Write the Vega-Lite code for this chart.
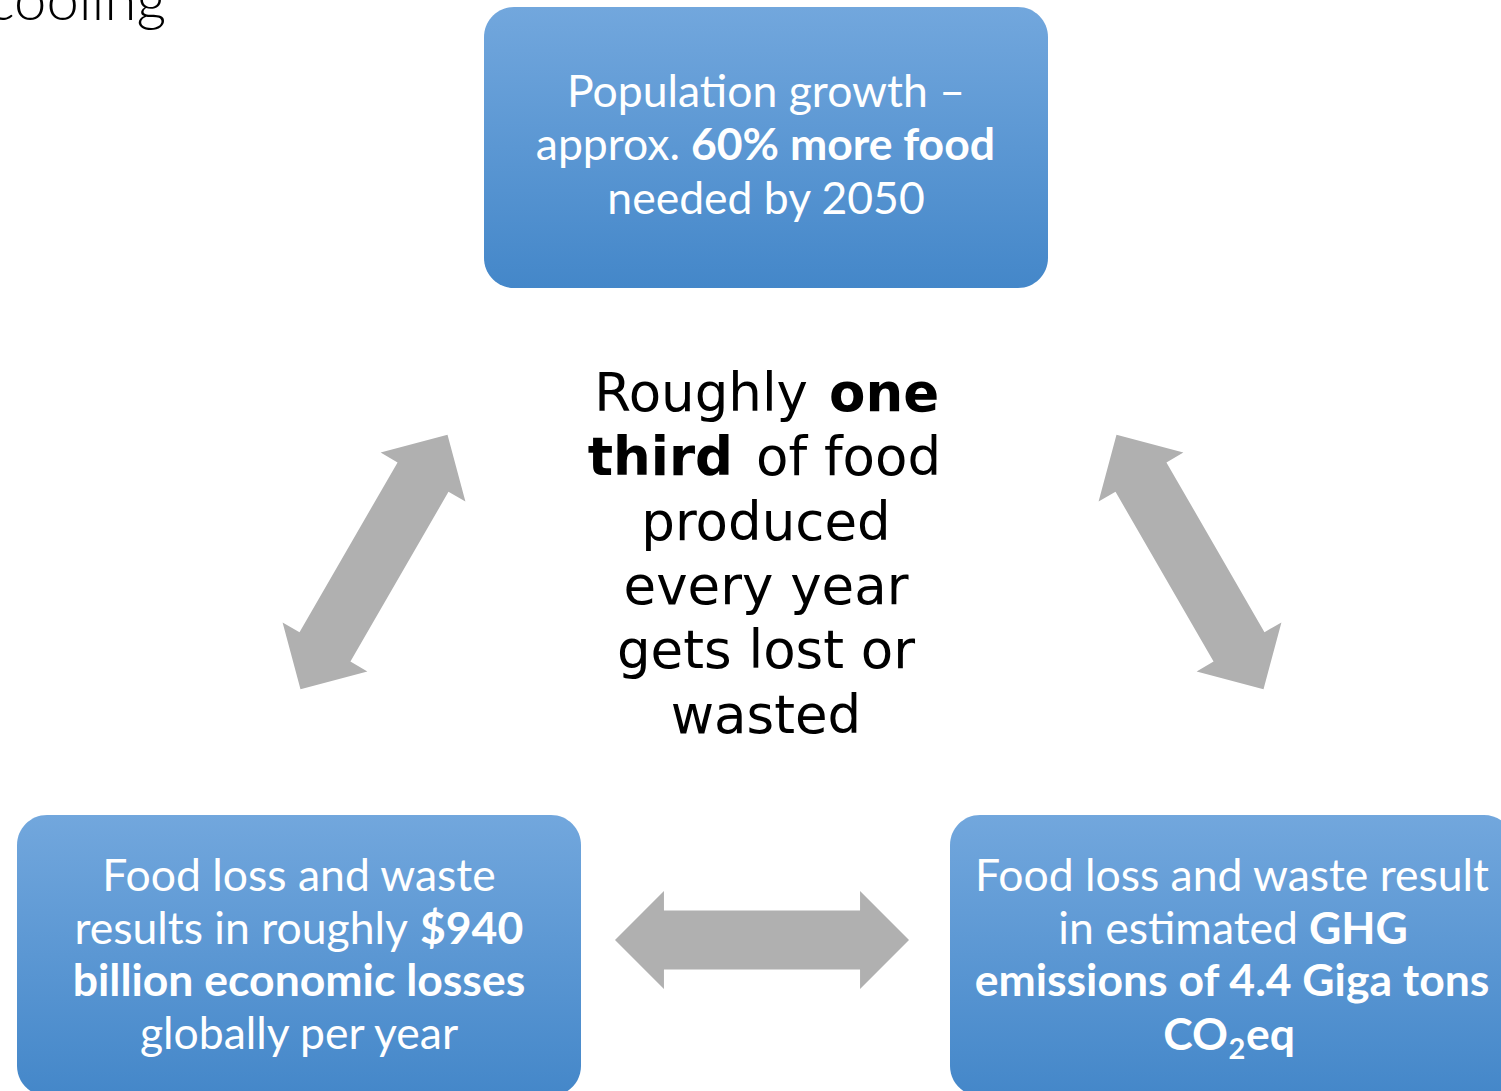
{
  "$schema": "https://vega.github.io/schema/vega-lite/v6.json",
  "width": 1501,
  "height": 1091,
  "autosize": {"type": "none"},
  "padding": 0,
  "background": "white",
  "config": {"view": {"stroke": null}},
  "datasets": {
    "boxes": [
      {"box": "top", "x": 484, "x2": 1048, "y": 7, "y2": 288},
      {"box": "left", "x": 17, "x2": 581, "y": 815, "y2": 1096},
      {"box": "right", "x": 950, "x2": 1514, "y": 815, "y2": 1096}
    ],
    "arrows": [
      {"link": "top-left", "x": 374, "y": 562, "dir": -60},
      {"link": "top-right", "x": 1190, "y": 562, "dir": 60},
      {"link": "left-right", "x": 762, "y": 940, "dir": 0}
    ],
    "texts": [
      {"grp": "box", "part": "whole", "emph": false, "t": "Population growth –", "x": 766, "y": 107},
      {"grp": "box", "part": "before", "emph": false, "t": "approx.", "x": 680, "y": 160},
      {"grp": "box", "part": "after", "emph": true, "t": "60% more food", "x": 691, "y": 160},
      {"grp": "box", "part": "whole", "emph": false, "t": "needed by 2050", "x": 766, "y": 214},
      {"grp": "box", "part": "whole", "emph": false, "t": "Food loss and waste", "x": 299, "y": 891},
      {"grp": "box", "part": "before", "emph": false, "t": "results in roughly", "x": 408, "y": 944},
      {"grp": "box", "part": "after", "emph": true, "t": "$940", "x": 420, "y": 944},
      {"grp": "box", "part": "whole", "emph": true, "t": "billion economic losses", "x": 299, "y": 996},
      {"grp": "box", "part": "whole", "emph": false, "t": "globally per year", "x": 299, "y": 1049},
      {"grp": "box", "part": "whole", "emph": false, "t": "Food loss and waste result", "x": 1232, "y": 891},
      {"grp": "box", "part": "before", "emph": false, "t": "in estimated", "x": 1298, "y": 944},
      {"grp": "box", "part": "after", "emph": true, "t": "GHG", "x": 1309, "y": 944},
      {"grp": "box", "part": "whole", "emph": true, "t": "emissions of 4.4 Giga tons", "x": 1232, "y": 996},
      {"grp": "box", "part": "before", "emph": true, "t": "CO", "x": 1228, "y": 1050},
      {"grp": "box", "part": "sub", "emph": true, "t": "2", "x": 1237, "y": 1059},
      {"grp": "box", "part": "after", "emph": true, "t": "eq", "x": 1246, "y": 1050},
      {"grp": "center", "part": "before", "emph": false, "t": "Roughly", "x": 808, "y": 411},
      {"grp": "center", "part": "after", "emph": true, "t": "one", "x": 829, "y": 411},
      {"grp": "center", "part": "before", "emph": true, "t": "third", "x": 733, "y": 475},
      {"grp": "center", "part": "after", "emph": false, "t": "of food", "x": 756, "y": 475},
      {"grp": "center", "part": "whole", "emph": false, "t": "produced", "x": 766, "y": 540},
      {"grp": "center", "part": "whole", "emph": false, "t": "every year", "x": 766, "y": 604},
      {"grp": "center", "part": "whole", "emph": false, "t": "gets lost or", "x": 766, "y": 668},
      {"grp": "center", "part": "whole", "emph": false, "t": "wasted", "x": 766, "y": 733},
      {"grp": "caption", "part": "before", "emph": false, "t": "cooling", "x": 166, "y": 20}
    ]
  },
  "encoding": {
    "x": {"field": "x", "type": "quantitative", "scale": {"domain": [0, 1501], "nice": false, "zero": false}, "axis": null},
    "y": {"field": "y", "type": "quantitative", "scale": {"domain": [0, 1091], "nice": false, "zero": false, "reverse": true}, "axis": null}
  },
  "layer": [
    {
      "data": {"name": "boxes"},
      "mark": {
        "type": "rect", "cornerRadius": 30, "clip": true,
        "fill": {"gradient": "linear", "x1": 0, "y1": 0, "x2": 0, "y2": 1,
          "stops": [{"offset": 0, "color": "#72a7dd"}, {"offset": 1, "color": "#4487c9"}]}
      },
      "encoding": {
        "x2": {"field": "x2"},
        "y2": {"field": "y2"}
      }
    },
    {
      "data": {"name": "arrows"},
      "mark": {
        "type": "point", "filled": true, "fill": "#b0b0b0", "opacity": 1, "strokeWidth": 0,
        "size": 86436,
        "shape": "M-1,0 L-0.667,-0.333 L-0.667,-0.2 L0.667,-0.2 L0.667,-0.333 L1,0 L0.667,0.333 L0.667,0.2 L-0.667,0.2 L-0.667,0.333 Z"
      },
      "encoding": {
        "angle": {"field": "dir", "type": "quantitative", "scale": null}
      }
    },
    {
      "data": {"name": "texts"},
      "transform": [{"filter": "datum.grp === 'box' && datum.part === 'whole' && !datum.emph"}],
      "mark": {"type": "text", "font": "Lato", "fontSize": 44.5, "fill": "white", "align": "center", "baseline": "alphabetic"},
      "encoding": {"text": {"field": "t"}}
    },
    {
      "data": {"name": "texts"},
      "transform": [{"filter": "datum.grp === 'box' && datum.part === 'whole' && datum.emph"}],
      "mark": {"type": "text", "font": "Lato", "fontWeight": "bold", "fontSize": 44.5, "fill": "white", "align": "center", "baseline": "alphabetic"},
      "encoding": {"text": {"field": "t"}}
    },
    {
      "data": {"name": "texts"},
      "transform": [{"filter": "datum.grp === 'box' && datum.part === 'before' && !datum.emph"}],
      "mark": {"type": "text", "font": "Lato", "fontSize": 44.5, "fill": "white", "align": "right", "baseline": "alphabetic"},
      "encoding": {"text": {"field": "t"}}
    },
    {
      "data": {"name": "texts"},
      "transform": [{"filter": "datum.grp === 'box' && datum.part === 'before' && datum.emph"}],
      "mark": {"type": "text", "font": "Lato", "fontWeight": "bold", "fontSize": 44.5, "fill": "white", "align": "right", "baseline": "alphabetic"},
      "encoding": {"text": {"field": "t"}}
    },
    {
      "data": {"name": "texts"},
      "transform": [{"filter": "datum.grp === 'box' && datum.part === 'after' && datum.emph"}],
      "mark": {"type": "text", "font": "Lato", "fontWeight": "bold", "fontSize": 44.5, "fill": "white", "align": "left", "baseline": "alphabetic"},
      "encoding": {"text": {"field": "t"}}
    },
    {
      "data": {"name": "texts"},
      "transform": [{"filter": "datum.grp === 'box' && datum.part === 'sub'"}],
      "mark": {"type": "text", "font": "Lato", "fontWeight": "bold", "fontSize": 29, "fill": "white", "align": "center", "baseline": "alphabetic"},
      "encoding": {"text": {"field": "t"}}
    },
    {
      "data": {"name": "texts"},
      "transform": [{"filter": "datum.grp === 'center' && datum.part === 'whole'"}],
      "mark": {"type": "text", "font": "DejaVu Sans", "fontSize": 53, "fill": "black", "align": "center", "baseline": "alphabetic"},
      "encoding": {"text": {"field": "t"}}
    },
    {
      "data": {"name": "texts"},
      "transform": [{"filter": "datum.grp === 'center' && datum.part === 'before' && !datum.emph"}],
      "mark": {"type": "text", "font": "DejaVu Sans", "fontSize": 53, "fill": "black", "align": "right", "baseline": "alphabetic"},
      "encoding": {"text": {"field": "t"}}
    },
    {
      "data": {"name": "texts"},
      "transform": [{"filter": "datum.grp === 'center' && datum.part === 'before' && datum.emph"}],
      "mark": {"type": "text", "font": "DejaVu Sans", "fontWeight": "bold", "fontSize": 53, "fill": "black", "align": "right", "baseline": "alphabetic"},
      "encoding": {"text": {"field": "t"}}
    },
    {
      "data": {"name": "texts"},
      "transform": [{"filter": "datum.grp === 'center' && datum.part === 'after' && datum.emph"}],
      "mark": {"type": "text", "font": "DejaVu Sans", "fontWeight": "bold", "fontSize": 53, "fill": "black", "align": "left", "baseline": "alphabetic"},
      "encoding": {"text": {"field": "t"}}
    },
    {
      "data": {"name": "texts"},
      "transform": [{"filter": "datum.grp === 'center' && datum.part === 'after' && !datum.emph"}],
      "mark": {"type": "text", "font": "DejaVu Sans", "fontSize": 53, "fill": "black", "align": "left", "baseline": "alphabetic"},
      "encoding": {"text": {"field": "t"}}
    },
    {
      "data": {"name": "texts"},
      "transform": [{"filter": "datum.grp === 'caption'"}],
      "mark": {"type": "text", "font": "Lato", "fontWeight": 300, "fontSize": 58, "fill": "black", "align": "right", "baseline": "alphabetic", "clip": true},
      "encoding": {"text": {"field": "t"}}
    }
  ]
}
